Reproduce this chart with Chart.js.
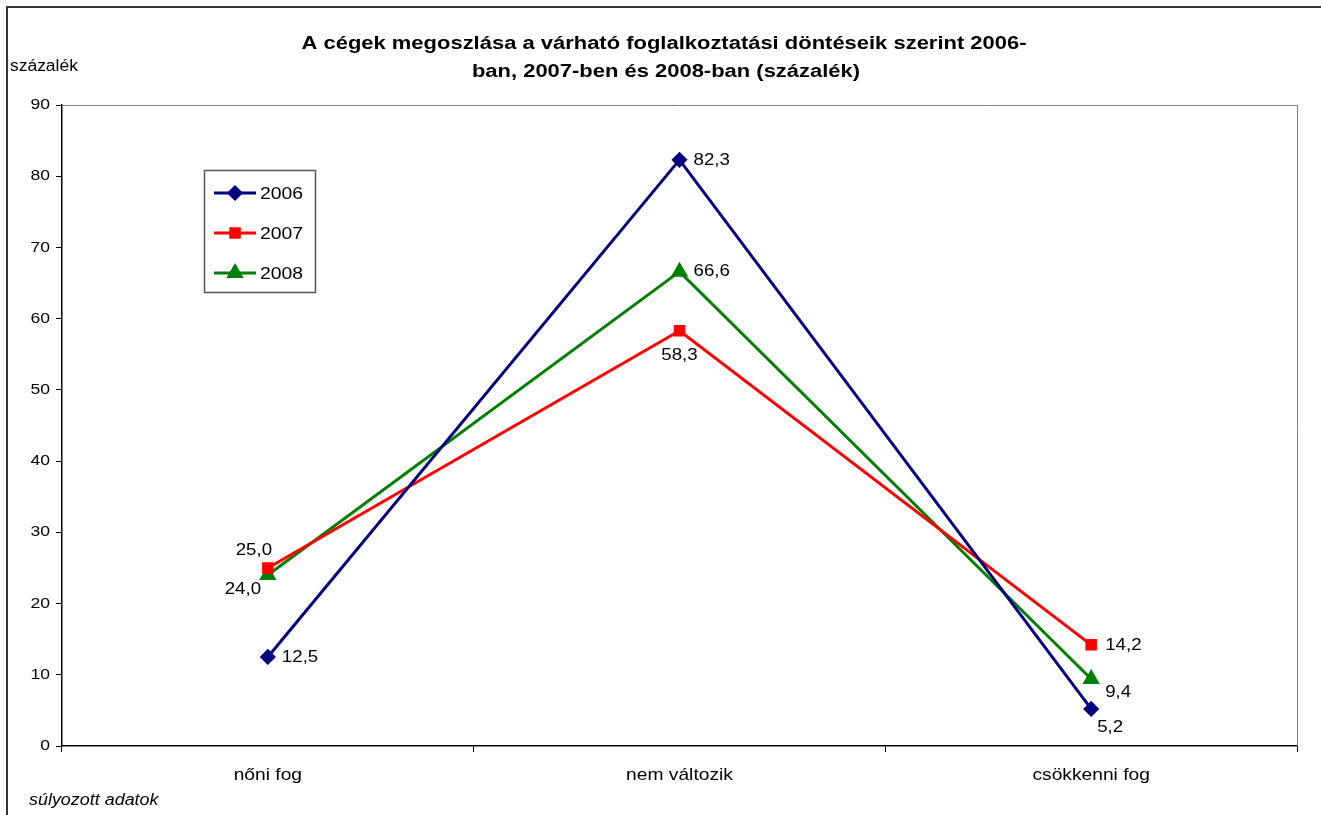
<!DOCTYPE html>
<html>
<head>
<meta charset="utf-8">
<script src="https://cdn.jsdelivr.net/npm/chart.js@4"></script>
<style>
  html, body { margin: 0; padding: 0; background: #fff; }
  #wrap { width: 1321px; height: 815px; }
</style>
</head>
<body>
<div id="wrap"><canvas id="c"></canvas></div>
<script>
// data
const categories = ["nőni fog", "nem változik", "csökkenni fog"];
const years = ["2006", "2007", "2008"];
const values2006 = [12.5, 82.3, 5.2];
const values2007 = [25.0, 58.3, 14.2];
const values2008 = [24.0, 66.6, 9.4];
const yTicks = [0, 10, 20, 30, 40, 50, 60, 70, 80, 90];

const titleLines = [
    "A cégek megoszlása a várható foglalkoztatási döntéseik szerint 2006-",
    "ban, 2007-ben és 2008-ban (százalék)"
];

// label offsets relative to the point [dx, dy, align]
const labelPos = [
    [[14, 0, "left"], [14, 0, "left"], [19, 18, "center"]],
    [[-14, -18, "center"], [0, 25, "center"], [14, 0, "left"]],
    [[-25, 14, "center"], [14, 0, "left"], [27, 13, "center"]]
];

const FONT = "'Liberation Sans', Arial, sans-serif";
const fmt = v => v.toFixed(1).replace(".", ",");

// text in the original is a bit wider than the font, so stretch it horizontally
function drawText(ctx, text, x, y, font, sx, align) {
    ctx.save();
    ctx.font = font;
    ctx.textBaseline = "middle";
    ctx.textAlign = "left";
    const w = ctx.measureText(text).width * sx;
    let left = x;
    if (align === "center") left = x - w / 2;
    else if (align === "right") left = x - w;
    ctx.translate(left, y);
    ctx.scale(sx, 1);
    ctx.fillText(text, 0, 0);
    ctx.restore();
}

const extras = {
    id: "extras",
    afterDraw(chart) {
        const ctx = chart.ctx;
        const area = chart.chartArea;
        const xs = chart.scales.x;
        const ys = chart.scales.y;
        ctx.save();

        // outer frame
        ctx.strokeStyle = "#333";
        ctx.lineWidth = 2;
        ctx.strokeRect(7, 7, 1400, 900);

        // plot area border (top, right)
        ctx.strokeStyle = "#808080";
        ctx.lineWidth = 1;
        ctx.beginPath();
        ctx.moveTo(area.left, area.top + 0.5);
        ctx.lineTo(area.right + 0.5, area.top + 0.5);
        ctx.lineTo(area.right + 0.5, area.bottom);
        ctx.stroke();

        ctx.fillStyle = "#000";

        // title
        drawText(ctx, titleLines[0], 664, 44, "bold 18px " + FONT, 1.22, "center");
        drawText(ctx, titleLines[1], 666, 72, "bold 18px " + FONT, 1.22, "center");

        // axis unit + note
        drawText(ctx, "százalék", 10, 67, "16px " + FONT, 1.09, "left");
        drawText(ctx, "súlyozott adatok", 29, 801, "italic 16px " + FONT, 1.12, "left");

        // tick labels
        yTicks.forEach(v => {
            drawText(ctx, String(v), 50, ys.getPixelForValue(v), "15px " + FONT, 1.17, "right");
        });
        categories.forEach((c, i) => {
            drawText(ctx, c, xs.getPixelForValue(i), 775, "17px " + FONT, 1.13, "center");
        });

        // data labels
        chart.data.datasets.forEach((ds, di) => {
            const meta = chart.getDatasetMeta(di);
            meta.data.forEach((pt, i) => {
                const p = labelPos[di][i];
                drawText(ctx, fmt(ds.data[i]), pt.x + p[0], pt.y + p[1], "17px " + FONT, 1.1, p[2]);
            });
        });

        // legend box
        ctx.fillStyle = "#fff";
        ctx.fillRect(204, 170, 111, 122);
        ctx.strokeStyle = "#555";
        ctx.lineWidth = 1.5;
        ctx.strokeRect(204.5, 170.5, 111, 122);
        chart.data.datasets.forEach((ds, di) => {
            const y = 193 + di * 40;
            ctx.strokeStyle = ds.borderColor;
            ctx.lineWidth = 3;
            ctx.beginPath();
            ctx.moveTo(214, y);
            ctx.lineTo(256, y);
            ctx.stroke();
            Chart.helpers.drawPoint(ctx, {
                pointStyle: ds.pointStyle,
                radius: ds.pointRadius,
                rotation: 0,
                borderWidth: 1
            }, 235, y);
            ctx.fillStyle = ds.borderColor;
            ctx.fill();
            ctx.fillStyle = "#000";
            drawText(ctx, ds.label, 260, y + 1, "17px " + FONT, 1.14, "left");
        });

        ctx.restore();
    }
};

function series(label, data, color, style, r) {
    return {
        label: label,
        data: data,
        borderColor: color,
        backgroundColor: color,
        pointBackgroundColor: color,
        pointBorderColor: color,
        borderWidth: 3,
        pointStyle: style,
        pointRadius: r,
        pointHoverRadius: r,
        tension: 0
    };
}

new Chart(document.getElementById("c"), {
    type: "line",
    data: {
        labels: categories,
        datasets: [
            series(years[0], values2006, "#000080", "rectRot", 6),
            series(years[1], values2007, "#ff0000", "rect", 6),
            series(years[2], values2008, "#008000", "triangle", 7)
        ]
    },
    options: {
        responsive: true,
        maintainAspectRatio: false,
        animation: false,
        clip: false,
        layout: { padding: { left: 0, top: 105, right: 24, bottom: 0 } },
        plugins: {
            legend: { display: false },
            title: { display: false },
            tooltip: { enabled: false }
        },
        scales: {
            x: {
                offset: true,
                grid: {
                    offset: true,
                    drawOnChartArea: false,
                    tickLength: 6,
                    color: "#000"
                },
                border: { color: "#000", width: 1.5 },
                ticks: { display: false },
                afterFit(scale) { scale.height = 69; }
            },
            y: {
                min: 0,
                max: 90,
                afterBuildTicks(scale) {
                    scale.ticks = yTicks.map(v => ({ value: v }));
                },
                grid: {
                    drawOnChartArea: false,
                    tickLength: 6,
                    color: "#000"
                },
                border: { color: "#000", width: 1.5 },
                ticks: { display: false },
                afterFit(scale) { scale.width = 62; }
            }
        }
    },
    plugins: [extras]
});
</script>
</body>
</html>
